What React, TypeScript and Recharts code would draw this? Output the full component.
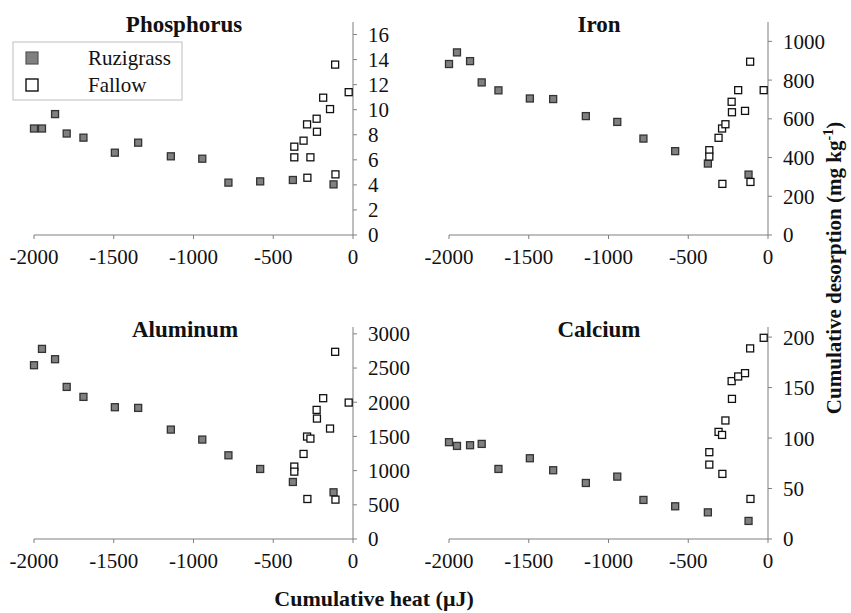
import { ScatterChart, Scatter, XAxis, YAxis } from "recharts";

// cumulative heat (µJ) shared by every element
const ruzigrassHeat = [-2000, -1950, -1868, -1795, -1690, -1493, -1347, -1142, -945, -781, -582, -377, -122];
const fallowHeat = [-368, -368, -310, -288, -286, -267, -228, -226, -187, -144, -112, -110, -27];
const heatTicks = [-2000, -1500, -1000, -500, 0];

// cumulative desorption (mg kg-1)
const phosphorusRuzigrass = [8.5, 8.5, 9.65, 8.1, 7.77, 6.57, 7.37, 6.28, 6.09, 4.18, 4.28, 4.39, 4.04];
const phosphorusFallow = [7.05, 6.2, 7.53, 8.83, 4.57, 6.2, 9.28, 8.24, 10.96, 10.05, 13.6, 4.84, 11.4];
const phosphorusTicks = [0, 2, 4, 6, 8, 10, 12, 14, 16];

const ironRuzigrass = [883, 943, 898, 788, 747, 705, 702, 614, 584, 498, 433, 369, 312];
const ironFallow = [438, 405, 502, 550, 264, 572, 688, 634, 748, 641, 895, 274, 748];
const ironTicks = [0, 200, 400, 600, 800, 1000];

const aluminumRuzigrass = [2541, 2780, 2629, 2224, 2078, 1927, 1917, 1600, 1454, 1224, 1024, 834, 683];
const aluminumFallow = [1059, 985, 1244, 1498, 585, 1468, 1888, 1761, 2059, 1615, 2737, 576, 1995];
const aluminumTicks = [0, 500, 1000, 1500, 2000, 2500, 3000];

const calciumRuzigrass = [95.9, 92.2, 92.9, 94.2, 69.4, 80.0, 68.1, 55.5, 61.8, 38.7, 32.4, 26.4, 17.9];
const calciumFallow = [86, 73.7, 106.1, 103.1, 64.5, 117.4, 156.4, 138.8, 161.0, 164.3, 188.8, 39.7, 199.3];
const calciumTicks = [0, 50, 100, 150, 200];

const FONT = "Liberation Serif";
const AXIS = "#7f7f7f";
const GRAY = "#808080";

const toPoints = (xs: number[], ys: number[]) => xs.map((x, i) => ({ x, y: ys[i] }));

function Square(props: any) {
  const { cx, cy, fill, stroke } = props;
  if (cx == null || cy == null) return null;
  return <rect x={cx - 3.5} y={cy - 3.5} width={7} height={7} fill={fill} stroke={stroke} strokeWidth={1.3} />;
}

interface PanelProps {
  left: number;
  top: number;
  plotHeight: number;
  yMax: number;
  yTicks: number[];
  ruz: number[];
  fal: number[];
}

function Panel({ left, top, plotHeight, yMax, yTicks, ruz, fal }: PanelProps) {
  const tickStyle = { fontFamily: FONT, fontSize: 21, fill: "#111", style: { fontFamily: FONT } };
  return (
    <div style={{ position: "absolute", left, top, fontFamily: FONT }}>
      <ScatterChart width={430} height={280} margin={{ top: 22, right: 0, bottom: 0, left: 34 }} style={{ fontFamily: FONT }}>
        <XAxis
          type="number"
          dataKey="x"
          domain={[-2000, 0]}
          ticks={heatTicks}
          interval={0}
          height={280 - 22 - plotHeight}
          stroke={AXIS}
          tickSize={4}
          tickMargin={10}
          tick={tickStyle}
        />
        <YAxis
          type="number"
          dataKey="y"
          orientation="right"
          domain={[0, yMax]}
          ticks={yTicks}
          interval={0}
          width={77}
          stroke={AXIS}
          tickSize={4}
          tickMargin={11}
          tick={{ ...tickStyle, textAnchor: "start" }}
        />
        <Scatter
          data={toPoints(ruzigrassHeat, ruz)}
          fill={GRAY}
          stroke="#333"
          shape={(p: any) => <Square {...p} fill={GRAY} stroke="#333" />}
          isAnimationActive={false}
        />
        <Scatter
          data={toPoints(fallowHeat, fal)}
          fill="#fff"
          stroke="#111"
          shape={(p: any) => <Square {...p} fill="#fff" stroke="#111" />}
          isAnimationActive={false}
        />
      </ScatterChart>
    </div>
  );
}

export default function App() {
  const title = { fontSize: 23, fontWeight: 700, fill: "#111", textAnchor: "middle" as const, style: { fontFamily: FONT } };
  const text = { style: { fontFamily: FONT }, fill: "#111" };
  return (
    <div style={{ position: "absolute", left: 0, top: 0, width: 851, height: 613, background: "#fff", fontFamily: FONT }}>
      <Panel left={0} top={0} plotHeight={213} yMax={17} yTicks={phosphorusTicks} ruz={phosphorusRuzigrass} fal={phosphorusFallow} />
      <Panel left={415} top={0} plotHeight={213} yMax={1100} yTicks={ironTicks} ruz={ironRuzigrass} fal={ironFallow} />
      <Panel left={0} top={305} plotHeight={212} yMax={3100} yTicks={aluminumTicks} ruz={aluminumRuzigrass} fal={aluminumFallow} />
      <Panel left={415} top={305} plotHeight={212} yMax={210} yTicks={calciumTicks} ruz={calciumRuzigrass} fal={calciumFallow} />

      <svg width={851} height={613} style={{ position: "absolute", left: 0, top: 0, pointerEvents: "none", fontFamily: FONT }}>
        <text x={184} y={32} {...title}>Phosphorus</text>
        <text x={599} y={32} {...title}>Iron</text>
        <text x={185} y={337} {...title}>Aluminum</text>
        <text x={599} y={337} {...title}>Calcium</text>

        {/* legend */}
        <rect x={13} y={42} width={169} height={58} fill="#fff" stroke="#c8c8c8" strokeWidth={1.2} />
        <rect x={26} y={52} width={12} height={12} fill={GRAY} stroke="#555" strokeWidth={1.2} />
        <rect x={26} y={79} width={12} height={12} fill="#fff" stroke="#111" strokeWidth={1.4} />
        <text x={88} y={65} fontSize={21} {...text}>Ruzigrass</text>
        <text x={88} y={92} fontSize={21} {...text}>Fallow</text>

        <text x={374} y={606} fontSize={22} fontWeight={700} textAnchor="middle" {...text}>
          Cumulative heat (μJ)
        </text>
        <text transform="translate(841, 268) rotate(-90)" fontSize={21} fontWeight={700} textAnchor="middle" {...text}>
          Cumulative desorption (mg kg<tspan dy={-8} fontSize={14}>-1</tspan><tspan dy={8}>)</tspan>
        </text>
      </svg>
    </div>
  );
}
